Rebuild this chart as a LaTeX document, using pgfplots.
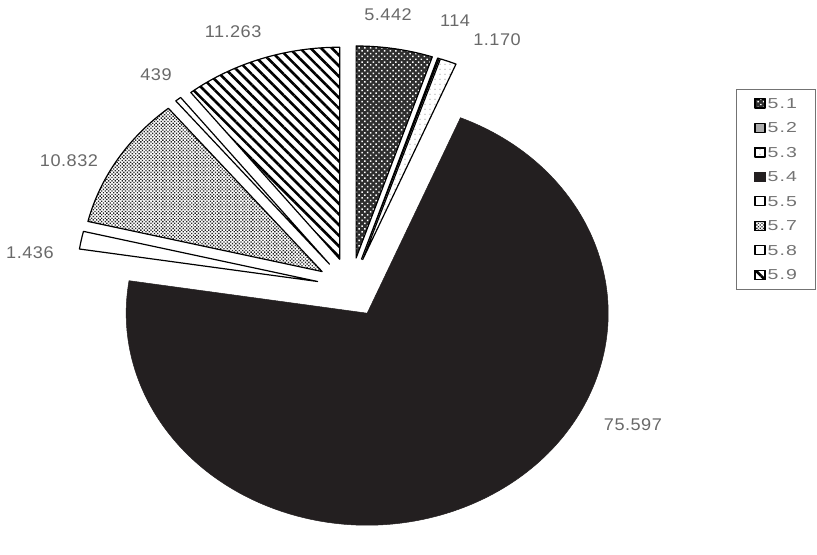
\documentclass[border=0pt]{standalone}
\usepackage{pgfplots}
\pgfplotsset{compat=1.18}
\usepackage{pgfplotstable}
\usetikzlibrary{patterns.meta}
\usepackage{fontspec}
\setmainfont{Liberation Sans}
\newfontfamily\lblfont[FakeStretch=1.07, LetterSpace=3]{Liberation Sans}
\newfontfamily\legfont[FakeStretch=1.35, LetterSpace=8]{Liberation Sans}
\newcommand\legtxt[1]{{\fontsize{14.5}{16}\selectfont\legfont\color{leggray}#1}}
\definecolor{pieblack}{RGB}{35,31,32}
\definecolor{lblgray}{RGB}{105,105,105}
\definecolor{leggray}{RGB}{115,115,115}

% id, value, label position (pie units: radius = 1)
\pgfplotstableread{
id   value  lx      ly
5.1  5442   0.155   1.285
5.2  114    0.433   1.256
5.3  1170   0.607   1.166
5.4  75597  1.171  -0.650
5.5  1436  -1.331   0.165
5.7  10832 -1.169   0.596
5.8  439   -0.808   1.001
5.9  11263 -0.488   1.204
}\piedata

\tikzset{
  wbase/.style={draw=black, line width=1.2bp, line join=round},
  wedge0/.style={wbase, preaction={fill=black!82}, pattern={Dots[distance=4bp, radius=1.05bp, angle=45]}, pattern color=white},
  wedge1/.style={wbase, fill=gray!65},
  wedge2/.style={wbase, preaction={fill=white}, pattern={Dots[distance=5bp, radius=0.55bp]}, pattern color=gray!80},
  wedge3/.style={draw=pieblack, line width=0.5bp, fill=pieblack},
  wedge4/.style={wbase, fill=white},
  wedge5/.style={wbase, preaction={fill=white}, pattern={Dots[distance=2.4bp, radius=0.95bp, angle=45]}, pattern color=black!85},
  wedge6/.style={wbase, fill=white},
  wedge7/.style={wbase, preaction={fill=white}, pattern={Lines[angle=-45, distance=7.5bp, line width=2.6bp]}, pattern color=black},
}

\begin{document}
\begin{tikzpicture}
% ---- angles from the data (clockwise from 12 o'clock) ----
\xdef\total{0}
\foreach \r in {0,...,7}{%
  \pgfplotstablegetelem{\r}{value}\of\piedata
  \xdef\total{\fpeval{\total+\pgfplotsretval}}%
}
\xdef\cum{0}
\foreach \r in {0,...,7}{%
  \pgfplotstablegetelem{\r}{value}\of\piedata
  \edef\v{\pgfplotsretval}%
  \expandafter\xdef\csname val\r\endcsname{\v}%
  \xdef\s{\fpeval{round(90-360*\cum/\total,6)}}%
  \xdef\e{\fpeval{round(90-360*(\cum+\v)/\total,6)}}%
  \xdef\m{\fpeval{(\s+\e)/2}}%
  \expandafter\xdef\csname ps\r\endcsname{\s}%
  \expandafter\xdef\csname pe\r\endcsname{\e}%
  \expandafter\xdef\csname ox\r\endcsname{\fpeval{round(0.14*cosd(\m),6)}}%
  \expandafter\xdef\csname oy\r\endcsname{\fpeval{round(0.14*sind(\m),6)}}%
  \expandafter\xdef\csname sx\r\endcsname{\fpeval{round(0.14*cosd(\m)+cosd(\s),6)}}%
  \expandafter\xdef\csname sy\r\endcsname{\fpeval{round(0.14*sind(\m)+sind(\s),6)}}%
  \pgfplotstablegetelem{\r}{lx}\of\piedata
  \expandafter\xdef\csname lx\r\endcsname{\pgfplotsretval}%
  \pgfplotstablegetelem{\r}{ly}\of\piedata
  \expandafter\xdef\csname ly\r\endcsname{\pgfplotsretval}%
  \xdef\cum{\fpeval{\cum+\v}}%
}
\begin{axis}[
  x=241bp, y=212bp,
  xmin=-1.4552, xmax=1.9349, ymin=-1.1259, ymax=1.3552,
  hide axis, clip=false,
  legend image code/.code={\draw[#1, line width=1.1bp] (0bp,-4.5bp) rectangle (10bp,4.5bp);},
  legend style={
    at={(0.9009,0.8308)}, anchor=north west,
    draw=leggray, line width=0.8bp,
    inner xsep=18bp, inner ysep=9bp,
    row sep=14.4bp, column sep=2bp,
    nodes={inner sep=0bp, text height=10bp, text depth=0bp},
  },
  legend cell align=left,
]
\path (rel axis cs:0,0) (rel axis cs:1,1);
\pgfplotsinvokeforeach{0,...,7}{%
  \draw[wedge#1] (axis cs:\csname ox#1\endcsname,\csname oy#1\endcsname)
    -- (axis cs:\csname sx#1\endcsname,\csname sy#1\endcsname)
    arc[start angle=\csname ps#1\endcsname, end angle=\csname pe#1\endcsname,
        x radius=241bp, y radius=212bp] -- cycle;
  \node[font=\fontsize{17}{19}\selectfont\lblfont, text=lblgray, inner sep=0pt]
    at (axis cs:\csname lx#1\endcsname,\csname ly#1\endcsname)
    {\pgfmathprintnumber[assume math mode=true, 1000 sep={.}]{\csname val#1\endcsname}};
}
\addlegendimage{wedge0}
\addlegendimage{wedge1}
\addlegendimage{wedge2}
\addlegendimage{wedge3}
\addlegendimage{wedge4}
\addlegendimage{wedge5}
\addlegendimage{wedge6}
\addlegendimage{wedge7}
\legend{\legtxt{5.1},\legtxt{5.2},\legtxt{5.3},\legtxt{5.4},\legtxt{5.5},\legtxt{5.7},\legtxt{5.8},\legtxt{5.9}}
\end{axis}
\end{tikzpicture}
\end{document}
